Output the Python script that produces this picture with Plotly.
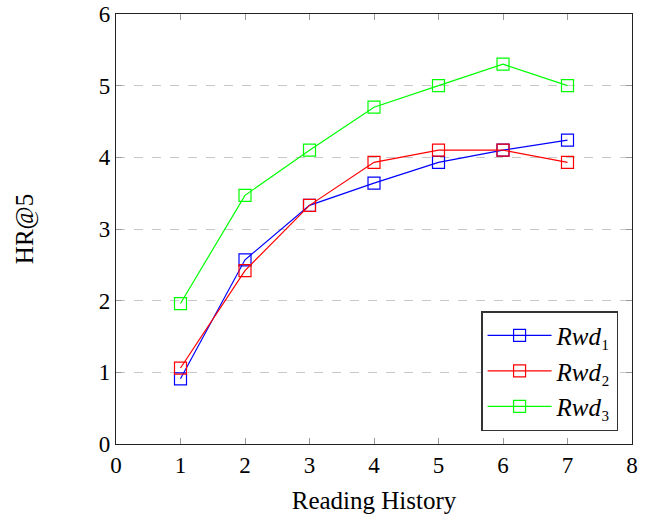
import plotly.graph_objects as go

x_vals = [1, 2, 3, 4, 5, 6, 7]
rwd1 = [0.91, 2.57, 3.33, 3.64, 3.93, 4.10, 4.24]
rwd2 = [1.06, 2.42, 3.33, 3.93, 4.10, 4.10, 3.93]
rwd3 = [1.96, 3.47, 4.10, 4.70, 5.00, 5.30, 5.00]
names = ["<i>Rwd</i>₁", "<i>Rwd</i>₂", "<i>Rwd</i>₃"]
colors = ["#0000ff", "#ff0000", "#00ff00"]
x_ticks = [0, 1, 2, 3, 4, 5, 6, 7, 8]
y_ticks = [0, 1, 2, 3, 4, 5, 6]

fig = go.Figure()
for ys, nm, c in zip([rwd1, rwd2, rwd3], names, colors):
    fig.add_trace(go.Scatter(
        x=x_vals, y=ys, name=nm, mode="lines+markers",
        line=dict(color=c, width=1.2),
        marker=dict(symbol="square-open", size=12, color=c, line=dict(width=1.2, color=c)),
    ))

font_family = "Liberation Serif, Times New Roman, serif"
fig.update_layout(
    width=653, height=521,
    margin=dict(l=116, r=21, t=14, b=77),
    plot_bgcolor="white", paper_bgcolor="white",
    font=dict(family=font_family, size=23, color="black"),
    showlegend=True,
    legend=dict(
        x=0.973, y=0.03, xanchor="right", yanchor="bottom",
        bgcolor="white", bordercolor="#333333", borderwidth=1.5,
        font=dict(family=font_family, size=25),
        itemwidth=64, tracegroupgap=0,
    ),
    xaxis=dict(
        range=[0, 8], tickvals=x_ticks, ticktext=[str(t) for t in x_ticks],
        showgrid=False, zeroline=False, showline=True, linecolor="#222222", linewidth=1.3,
        mirror="ticks", ticks="inside", ticklen=6, tickcolor="#999999",
        tickfont=dict(size=23), automargin=False,
        title=dict(text="Reading History", font=dict(size=25), standoff=14),
    ),
    yaxis=dict(
        range=[0, 6], tickvals=y_ticks, ticktext=[str(t) for t in y_ticks],
        showgrid=True, gridcolor="#c8c8c8", griddash="dash", gridwidth=1,
        zeroline=False, showline=True, linecolor="#222222", linewidth=1.3,
        mirror="ticks", ticks="inside", ticklen=6, tickcolor="#999999",
        tickfont=dict(size=23), automargin=False,
        title=dict(text="HR@5", font=dict(size=25), standoff=58),
    ),
)

fig.write_html("out.html", config={"displayModeBar": False},
               post_script="document.body.style.margin='0';")
